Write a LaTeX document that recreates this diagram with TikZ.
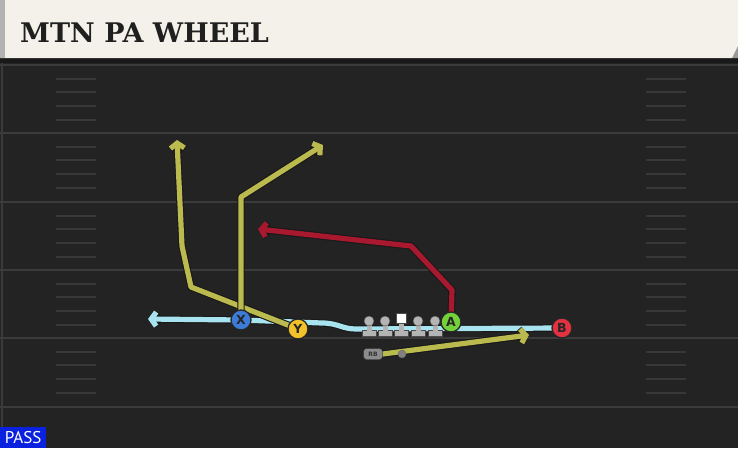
\documentclass[tikz,border=0pt]{standalone}
\usepackage{fontspec}
\setmainfont{DejaVu Sans}[BoldFont={DejaVu Sans Bold}]
\newfontfamily\titlefont{DejaVu Serif Bold}
\newfontfamily\passfont{PT Sans}
\usetikzlibrary{arrows.meta}
\pgfdeclarelayer{field}
\pgfdeclarelayer{routes}
\pgfsetlayers{field,routes,main}
\definecolor{cream}{HTML}{F4F1EA}
\definecolor{fieldbg}{HTML}{232323}
\definecolor{yardgray}{HTML}{3B3B3B}
\definecolor{hashgray}{HTML}{383838}
\definecolor{routeyellow}{HTML}{BABA4E}
\definecolor{routered}{HTML}{A8182F}
\definecolor{blockblue}{HTML}{A8E4F0}
\definecolor{xblue}{HTML}{3D7BD9}
\definecolor{yyellow}{HTML}{F2C22A}
\definecolor{agreen}{HTML}{73D13A}
\definecolor{bred}{HTML}{E2323F}
\definecolor{passblue}{HTML}{0A22E0}
\definecolor{linegray}{HTML}{B4B4B4}
\begin{document}
\begin{tikzpicture}[x=1pt,y=-1pt,
        route/.style={line width=5.2pt,line join=round,preaction={draw=black!90,line width=7.4pt}},
        routetip/.style={-{Straight Barb[length=5pt,width=14pt]}},
        player/.style={circle,draw=black!85,line width=1.3pt,minimum size=20pt,inner sep=0pt,
            font=\bfseries\fontsize{12.5}{12.5}\selectfont,text=black!85},
        yardline/.style={yardgray,line width=2pt},
        hashline/.style={hashgray,line width=1.6pt}]
        \useasboundingbox (0,0) rectangle (738,448);
        % field
        \begin{pgfonlayer}{field}
            \fill[fieldbg] (0,0) rectangle (738,448);
            \draw[yardgray,line width=1.2pt] (2,60) -- (2,448);
            \foreach \y in {65,133,202,270,338,407}
                {
                    \draw[yardline] (0,\y) -- (738,\y);
                }
            \foreach \y in {65,133,202,270,338}
                {
                    \foreach \d in {14,27,41,55}
                        {
                            \draw[hashline] (56,\y+\d) -- (96,\y+\d);
                            \draw[hashline] (646,\y+\d) -- (686,\y+\d);
                        }
                }
            % header
            \fill[black!90] (0,58) rectangle (738,63);
            \fill[black!40] (738,46) -- (738,58) -- (732,58) -- cycle;
            \fill[cream] (0,0) -- (738,0) -- (738,46) -- (732,58) -- (0,58) -- cycle;
            \fill[black!30] (0,0) rectangle (5,58);
        \end{pgfonlayer}
        \node[anchor=west,inner sep=0pt,text=black!88,font=\titlefont\fontsize{27}{27}\selectfont] (title) at (20,33) {MTN PA WHEEL};
        \node[anchor=south west,fill=passblue,text=white,inner sep=0pt,minimum width=46pt,minimum height=21pt,
            font=\passfont\fontsize{17}{17}\selectfont] (pass) at (0,448) {PASS};
        % linemen
        \foreach \x/\nm in {369/lt,385/lg,418/rg,435/rt}
            {
                \fill[linegray,draw=black!70,line width=0.4pt] (\x-7,336) rectangle (\x+7,330);
                \fill[linegray] (\x-2.5,331) rectangle (\x+2.5,322);
                \node[circle,fill=linegray,draw=black!70,line width=0.4pt,minimum size=10pt,inner sep=0pt] (\nm) at (\x,321) {};
            }
        \fill[linegray,draw=black!70,line width=0.4pt] (394,336) rectangle (408,330);
        \fill[linegray] (398.5,331) rectangle (403.5,321);
        \node[rectangle,fill=white,draw=black!70,line width=0.4pt,minimum size=10pt,inner sep=0pt] (c) at (401,318) {};
        % players
        \node[player,fill=xblue] (X) at (241,320) {X};
        \node[player,fill=yyellow] (Y) at (298,329) {Y};
        \node[player,fill=agreen] (A) at (451,322) {A};
        \node[player,fill=bred] (B) at (562,328) {B};
        \node[draw=black!80,fill=gray!90,rounded corners=3pt,minimum width=19pt,minimum height=11pt,inner sep=0pt,
            font=\bfseries\fontsize{6}{6}\selectfont,text=black!80] (RB) at (373,354) {RB};
        \node[circle,fill=gray,draw=black!60,minimum size=8pt,inner sep=0pt] (rbdot) at (402,354) {};
        \coordinate (blk1) at (356,329);
        \coordinate (blk2) at (322,323);
        \coordinate (blkend) at (148,319);
        \coordinate (yr1) at (191,287);
        \coordinate (yr2) at (182,246);
        \coordinate (yrend) at (177,140);
        \coordinate (xr1) at (241,197);
        \coordinate (xrend) at (323,145);
        \coordinate (ar1) at (452,290);
        \coordinate (ar2) at (411,246);
        \coordinate (arend) at (258,229);
        \coordinate (rbend) at (529,335);
        % routes
        \begin{pgfonlayer}{routes}
            \draw[route,blockblue,routetip] (B.center) -- (blk1) .. controls (342,329) and (338,323) .. (blk2) -- (X.center) -- (blkend);
            \draw[route,routeyellow,routetip] (Y.center) -- (yr1) -- (yr2) -- (yrend);
            \draw[route,routeyellow,routetip] (X.center) -- (xr1) -- (xrend);
            \draw[route,routered,routetip] (A.center) -- (ar1) -- (ar2) -- (arend);
            \draw[route,routeyellow,routetip] (RB.east) -- (rbend);
        \end{pgfonlayer}
\end{tikzpicture}
\end{document}
